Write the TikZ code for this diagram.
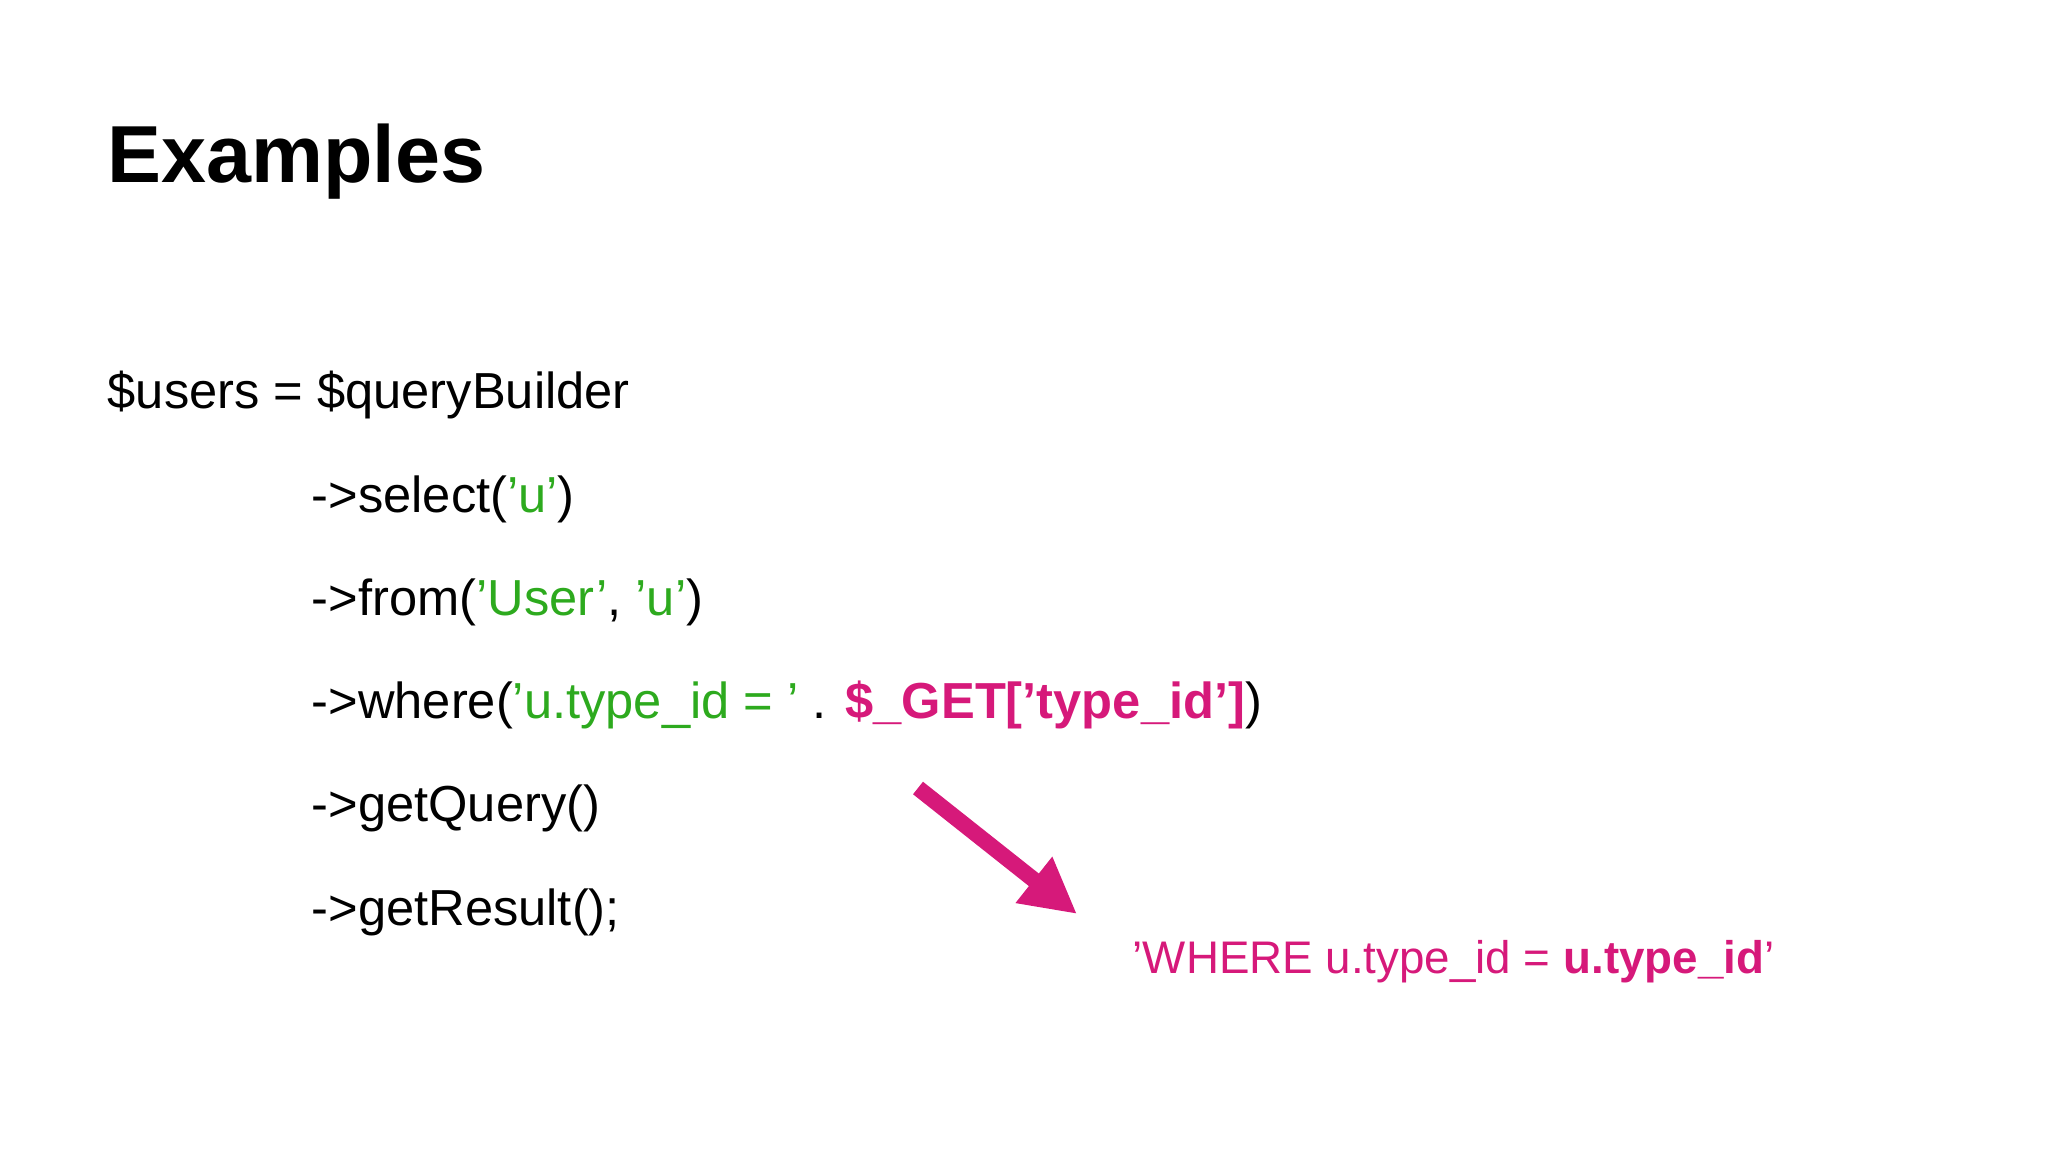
\documentclass[tikz,border=0pt]{standalone}
\usepackage{fontspec}
\usetikzlibrary{arrows.meta}
\setmainfont{Liberation Sans}
\definecolor{mag}{HTML}{D6197A}
\definecolor{grn}{HTML}{2DAA1E}
\begin{document}
\begin{tikzpicture}[x=0.01cm,y=-0.01cm,
  code/.style={anchor=base west,inner sep=0pt,font=\fontsize{14.4pt}{17pt}\selectfont}]
\useasboundingbox (0,0) rectangle (2048,1152);
\node[anchor=base west,inner sep=0pt,font=\fontsize{23pt}{28pt}\selectfont\bfseries] (title) at (107,183) {Examples};
\node[code] (l1) at (107,409) {\$users = \$queryBuilder};
\node[code] (l2) at (311,512) {->select(\textcolor{grn}{'u'})};
\node[code] (l3) at (311,615) {->from(\textcolor{grn}{'User'}, \textcolor{grn}{'u'})};
\node[code] (l4) at (311,718) {->where(\textcolor{grn}{'u.type\_id = '} . \textcolor{mag}{\bfseries\$\_GET['type\_id']})};
\node[code] (l5) at (311,821) {->getQuery()};
\node[code] (l6) at (311,925) {->getResult();};
\node[anchor=base west,inner sep=0pt,text=mag,font=\fontsize{13pt}{16pt}\selectfont] (res) at (1132,973) {'WHERE u.type\_id = \textbf{u.type\_id}'};
\coordinate (a1) at (918,788);
\coordinate (a2) at (1077,914);
\draw[mag,line width=0.16cm,-{Triangle[length=0.55cm,width=0.55cm]}] (a1) -- (a2);
\end{tikzpicture}
\end{document}
